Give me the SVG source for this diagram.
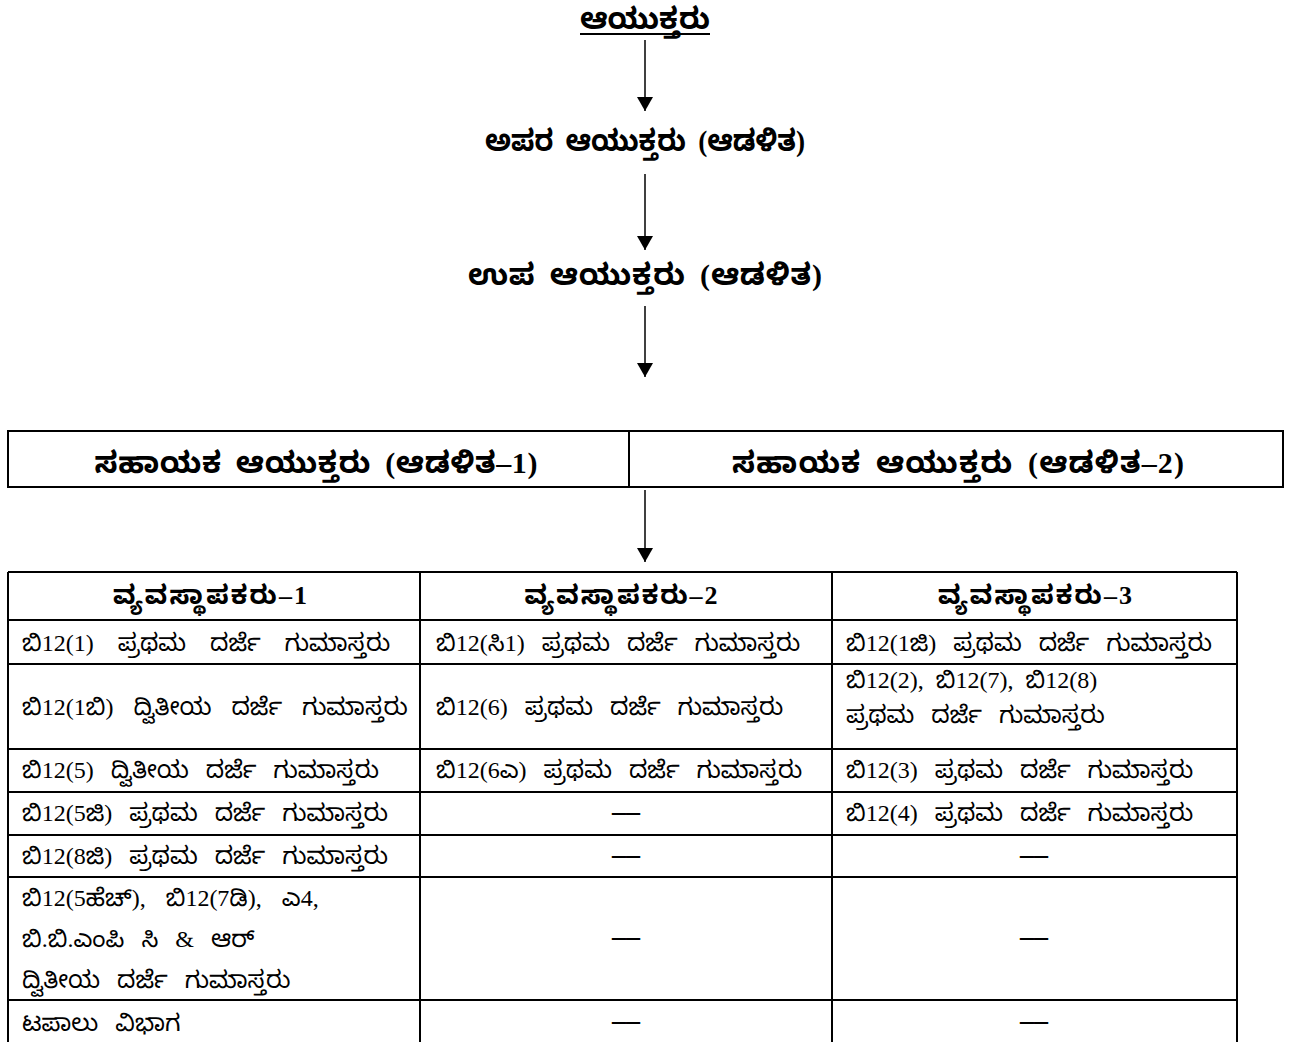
<svg xmlns="http://www.w3.org/2000/svg" width="1290" height="1046" viewBox="0 0 1290 1046">
<defs>
<marker id="ah" viewBox="0 0 14 16" refX="14" refY="8" markerWidth="14" markerHeight="16" markerUnits="userSpaceOnUse" orient="auto">
<path d="M0,0 L14,8 L0,16 Z" fill="#000"/>
</marker>
<style>
.t{font-family:"Liberation Serif","Noto Sans Kannada","Noto Sans",serif;fill:#000}
.h{font-size:30px;font-weight:bold;text-anchor:middle;word-spacing:6px}
.hd{font-size:26px;font-weight:bold;text-anchor:middle}
.c{font-size:24px;word-spacing:11px}
.d{font-family:"Liberation Serif",serif;font-size:28px;font-weight:bold;text-anchor:middle}
.ln{stroke:#000;stroke-width:2;fill:none}
.ar{stroke:#000;stroke-width:1.5;fill:none}
</style>
</defs>
<rect width="1290" height="1046" fill="#fff"/>
<g id="n1">
<text class="t h" x="645" y="29" textLength="130" lengthAdjust="spacingAndGlyphs">ಆಯುಕ್ತರು</text>
<line class="ln" x1="580" y1="34" x2="710" y2="34"/>
</g>
<g id="n2"><text class="t h" x="645" y="151" textLength="320" lengthAdjust="spacingAndGlyphs">ಅಪರ ಆಯುಕ್ತರು (ಆಡಳಿತ)</text></g>
<g id="n3"><text class="t h" x="645" y="285" textLength="354" lengthAdjust="spacing">ಉಪ ಆಯುಕ್ತರು (ಆಡಳಿತ)</text></g>
<g id="n4">
<rect class="ln" x="8" y="431" width="1275" height="56"/>
<line class="ln" x1="629" y1="431" x2="629" y2="487"/>
<text class="t h" x="316" y="473" textLength="443" lengthAdjust="spacing">ಸಹಾಯಕ ಆಯುಕ್ತರು (ಆಡಳಿತ–1)</text>
<text class="t h" x="958" y="473" textLength="452" lengthAdjust="spacing">ಸಹಾಯಕ ಆಯುಕ್ತರು (ಆಡಳಿತ–2)</text>
</g>
<g id="connectors">
<line class="ar" x1="645" y1="40" x2="645" y2="111" marker-end="url(#ah)"/>
<line class="ar" x1="645" y1="174" x2="645" y2="250" marker-end="url(#ah)"/>
<line class="ar" x1="645" y1="306" x2="645" y2="377" marker-end="url(#ah)"/>
<line class="ar" x1="645" y1="490" x2="645" y2="562" marker-end="url(#ah)"/>
</g>
<g id="table">
<line class="ln" x1="8" y1="572" x2="1237" y2="572"/>
<line class="ln" x1="8" y1="572" x2="8" y2="1042"/>
<line class="ln" x1="420" y1="572" x2="420" y2="1042"/>
<line class="ln" x1="832" y1="572" x2="832" y2="1042"/>
<line class="ln" x1="1237" y1="572" x2="1237" y2="1042"/>
<line class="ln" x1="8" y1="620" x2="1237" y2="620"/>
<line class="ln" x1="8" y1="664" x2="1237" y2="664"/>
<line class="ln" x1="8" y1="749" x2="1237" y2="749"/>
<line class="ln" x1="8" y1="792" x2="1237" y2="792"/>
<line class="ln" x1="8" y1="835" x2="1237" y2="835"/>
<line class="ln" x1="8" y1="877" x2="1237" y2="877"/>
<line class="ln" x1="8" y1="1000" x2="1237" y2="1000"/>
<text class="t hd" x="210" y="604" textLength="194" lengthAdjust="spacing">ವ್ಯವಸ್ಥಾಪಕರು–1</text>
<text class="t hd" x="621" y="604" textLength="193" lengthAdjust="spacing">ವ್ಯವಸ್ಥಾಪಕರು–2</text>
<text class="t hd" x="1035" y="604" textLength="194" lengthAdjust="spacing">ವ್ಯವಸ್ಥಾಪಕರು–3</text>
<text class="t c" x="22" y="651" style="word-spacing:18px">ಬಿ12(1) ಪ್ರಥಮ ದರ್ಜೆ ಗುಮಾಸ್ತರು</text>
<text class="t c" x="436" y="651">ಬಿ12(ಸಿ1) ಪ್ರಥಮ ದರ್ಜೆ ಗುಮಾಸ್ತರು</text>
<text class="t c" x="846" y="651">ಬಿ12(1ಜಿ) ಪ್ರಥಮ ದರ್ಜೆ ಗುಮಾಸ್ತರು</text>
<text class="t c" x="22" y="715" style="word-spacing:14px">ಬಿ12(1ಬಿ) ದ್ವಿತೀಯ ದರ್ಜೆ ಗುಮಾಸ್ತರು</text>
<text class="t c" x="436" y="715">ಬಿ12(6) ಪ್ರಥಮ ದರ್ಜೆ ಗುಮಾಸ್ತರು</text>
<text class="t c" x="846" y="688" style="word-spacing:6px">ಬಿ12(2), ಬಿ12(7), ಬಿ12(8)</text>
<text class="t c" x="846" y="723">ಪ್ರಥಮ ದರ್ಜೆ ಗುಮಾಸ್ತರು</text>
<text class="t c" x="22" y="778">ಬಿ12(5) ದ್ವಿತೀಯ ದರ್ಜೆ ಗುಮಾಸ್ತರು</text>
<text class="t c" x="436" y="778">ಬಿ12(6ಎ) ಪ್ರಥಮ ದರ್ಜೆ ಗುಮಾಸ್ತರು</text>
<text class="t c" x="846" y="778">ಬಿ12(3) ಪ್ರಥಮ ದರ್ಜೆ ಗುಮಾಸ್ತರು</text>
<text class="t c" x="22" y="821">ಬಿ12(5ಜಿ) ಪ್ರಥಮ ದರ್ಜೆ ಗುಮಾಸ್ತರು</text>
<text class="t d" x="626" y="820">––</text>
<text class="t c" x="846" y="821">ಬಿ12(4) ಪ್ರಥಮ ದರ್ಜೆ ಗುಮಾಸ್ತರು</text>
<text class="t c" x="22" y="864">ಬಿ12(8ಜಿ) ಪ್ರಥಮ ದರ್ಜೆ ಗುಮಾಸ್ತರು</text>
<text class="t d" x="626" y="863">––</text>
<text class="t d" x="1034" y="863">––</text>
<text class="t c" x="22" y="906" style="word-spacing:14px">ಬಿ12(5ಹೆಚ್), ಬಿ12(7ಡಿ), ಎ4,</text>
<text class="t c" x="22" y="947">ಬಿ.ಬಿ.ಎಂಪಿ ಸಿ &amp; ಆರ್</text>
<text class="t c" x="22" y="988">ದ್ವಿತೀಯ ದರ್ಜೆ ಗುಮಾಸ್ತರು</text>
<text class="t d" x="626" y="945">––</text>
<text class="t d" x="1034" y="945">––</text>
<text class="t c" x="22" y="1031">ಟಪಾಲು ವಿಭಾಗ</text>
<text class="t d" x="626" y="1029">––</text>
<text class="t d" x="1034" y="1029">––</text>
</g>
</svg>
